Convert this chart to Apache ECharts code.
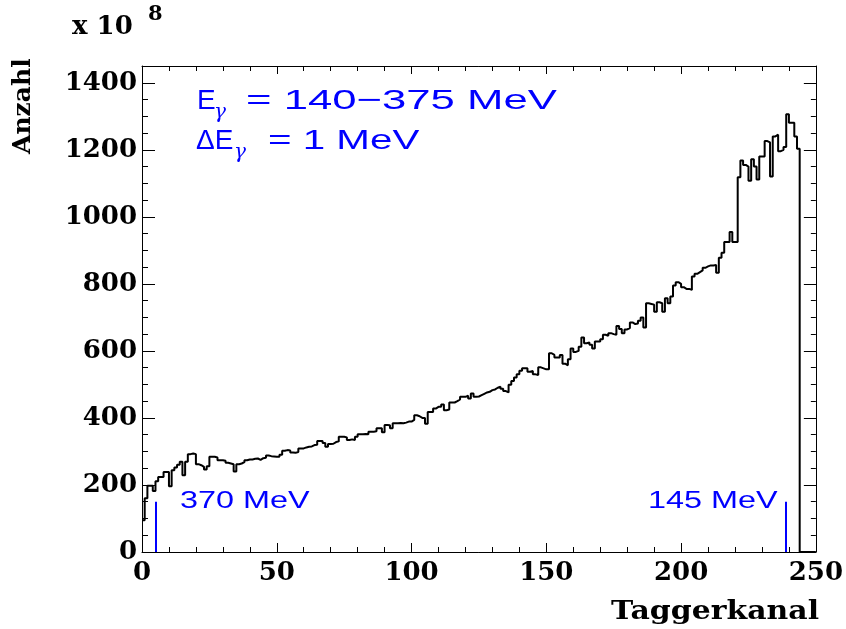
<!DOCTYPE html>
<html>
<head>
<meta charset="utf-8">
<script src="https://cdn.jsdelivr.net/npm/echarts@6/dist/echarts.min.js"></script>
<style>html,body{margin:0;padding:0;background:#fff;}#c{width:846px;height:629px;}</style>
</head>
<body>
<div id="c"></div>
<script>
// Histogram: counts per Tagger channel (bin width 1, channels 0..249), unit 10^8
const counts = [
  95,160,198,198,182,211,224,224,239,239,
  196,244,252,260,269,229,269,292,294,292,
  262,259,254,246,256,284,284,282,274,274,
  272,266,264,262,240,262,264,268,274,276,
  276,278,279,275,280,281,288,286,285,284,
  284,290,302,304,303,297,296,298,309,309,
  312,314,315,319,320,331,331,325,314,322,
  323,328,330,344,344,342,334,336,334,344,
  351,351,352,351,359,359,360,369,369,357,
  379,378,369,384,384,385,384,386,389,389,
  394,408,405,400,400,383,418,418,428,433,
  433,440,423,425,446,446,450,455,463,463,
  466,458,473,463,464,468,472,476,478,483,
  485,490,493,487,480,476,499,510,521,530,
  541,548,548,538,540,530,528,551,548,545,
  545,593,588,580,580,588,562,557,575,607,
  597,600,612,640,623,625,618,607,628,628,
  635,648,645,653,650,648,674,665,653,664,
  668,685,680,682,690,700,670,742,740,738,
  717,745,742,717,757,742,762,795,805,800,
  790,785,785,782,822,830,835,840,848,852,
  855,855,856,833,878,893,925,925,955,925,
  925,1118,1168,1155,1150,1108,1172,1150,1111,1180,
  1180,1226,1222,1120,1240,1245,1196,1200,1208,1306,
  1281,1281,1240,1203,0,0,0,0,0,0
];
const xTickLabels = [0, 50, 100, 150, 200, 250];
const yTickLabels = [0, 200, 400, 600, 800, 1000, 1200, 1400];
const markerChannels = [5, 239];     // energy markers
const markerLabels = ['370 MeV', '145 MeV'];
const markerHeight = 150;

const pts = counts.map((v, i) => [i, v]);
pts.push([counts.length, counts[counts.length - 1]]);

const chart = echarts.init(document.getElementById('c'), null, {renderer: 'canvas'});
const labelFont = {fontFamily: 'DejaVu Serif', fontWeight: 'bold', fontSize: 26, color: '#000'};
const black = {color: '#000', width: 1};
const plain = v => String(v);

function yAx(pos, tickLen, custom, showLine, showLabel) {
  const ax = {
    type: 'value', position: pos, min: 0, max: 1450, interval: 50,
    axisLine: {show: showLine, onZero: false, lineStyle: black},
    axisTick: {show: true, inside: true, length: tickLen, lineStyle: black},
    axisLabel: {show: showLabel, ...labelFont, margin: 5, formatter: plain, customValues: yTickLabels},
    splitLine: {show: false}
  };
  if (custom) ax.axisTick.customValues = yTickLabels;
  return ax;
}

const blue = '#0000ff';
const sans = 'Liberation Sans';
const gam = {fontFamily: 'DejaVu Serif', fontStyle: 'italic', fontSize: 20, fill: blue};

chart.setOption({
  animation: false,
  backgroundColor: '#fff',
  grid: {left: 142, right: 27, top: 66, bottom: 77, containLabel: false},
  xAxis: [
    {type: 'value', position: 'bottom', min: 0, max: 250, interval: 50,
     axisLine: {show: true, onZero: false, lineStyle: black},
     axisTick: {show: true, inside: true, length: 9, lineStyle: black},
     minorTick: {show: true, splitNumber: 5, length: 5, lineStyle: black},
     axisLabel: {show: true, ...labelFont, margin: 8, formatter: plain, customValues: xTickLabels},
     splitLine: {show: false}, minorSplitLine: {show: false}},
    {type: 'value', position: 'top', min: 0, max: 250, interval: 50,
     axisLine: {show: true, onZero: false, lineStyle: black},
     axisTick: {show: true, inside: true, length: 8, lineStyle: black},
     minorTick: {show: true, splitNumber: 5, length: 5, lineStyle: black},
     axisLabel: {show: false}, splitLine: {show: false}}
  ],
  yAxis: [
    yAx('left', 6, false, true, true),
    yAx('left', 13, true, false, false),
    yAx('right', 5, false, true, false),
    yAx('right', 12, true, false, false)
  ],
  series: [{
    type: 'line', step: 'end', data: pts, xAxisIndex: 0, yAxisIndex: 0,
    showSymbol: false, symbol: 'none', clip: true,
    lineStyle: {color: '#000', width: 2},
    markLine: {
      silent: true, symbol: 'none', animation: false,
      lineStyle: {color: blue, width: 2, type: 'solid'},
      label: {show: false},
      data: markerChannels.map(c => [{coord: [c, 0]}, {coord: [c, markerHeight]}])
    }
  }],
  graphic: [
    {type: 'text', x: 72, y: 14, style: {text: 'x 10', fontFamily: 'DejaVu Serif', fontWeight: 'bold', fontSize: 26, fill: '#000'}},
    {type: 'text', x: 148, y: 4, style: {text: '8', fontFamily: 'DejaVu Serif', fontWeight: 'bold', fontSize: 21, fill: '#000'}},
    {type: 'text', x: 11, y: 154, rotation: Math.PI / 2, style: {text: 'Anzahl', fontFamily: 'DejaVu Serif', fontWeight: 'bold', fontSize: 25, fill: '#000'}},
    {type: 'text', x: 819, y: 599, scaleX: 1.15, style: {text: 'Taggerkanal', align: 'right', fontFamily: 'DejaVu Serif', fontWeight: 'bold', fontSize: 26, fill: '#000'}},
    {type: 'text', x: 197, y: 87, style: {text: 'E', fontFamily: sans, fontSize: 28, fill: blue}},
    {type: 'text', x: 214, y: 103, style: {text: 'γ', ...gam}},
    {type: 'text', x: 246, y: 87, scaleX: 1.56, style: {text: '= 140−375 MeV', fontFamily: sans, fontSize: 28, fill: blue}},
    {type: 'text', x: 196, y: 127, style: {text: 'ΔE', fontFamily: sans, fontSize: 28, fill: blue}},
    {type: 'text', x: 234, y: 143, style: {text: 'γ', ...gam}},
    {type: 'text', x: 268, y: 127, scaleX: 1.44, style: {text: '= 1 MeV', fontFamily: sans, fontSize: 28, fill: blue}},
    {type: 'text', x: 180, y: 489, scaleX: 1.35, style: {text: markerLabels[0], fontFamily: sans, fontSize: 24, fill: blue}},
    {type: 'text', x: 648, y: 489, scaleX: 1.35, style: {text: markerLabels[1], fontFamily: sans, fontSize: 24, fill: blue}}
  ]
});
</script>
</body>
</html>
